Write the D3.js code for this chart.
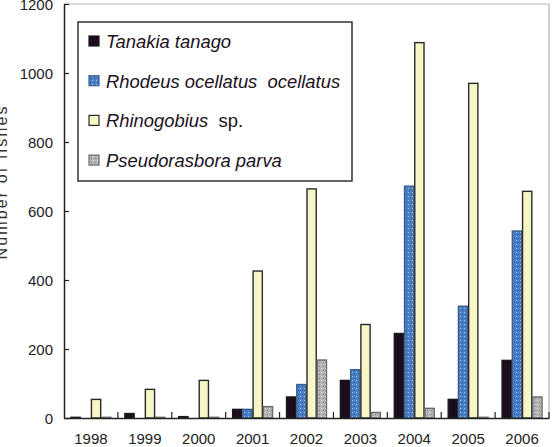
<!DOCTYPE html>
<html>
<head>
<meta charset="utf-8">
<title>Number of fishes 1998-2006</title>
<style>
  body { margin: 0; background: #fff; }
  svg { display: block; }
  .tick-label { font-family: "Liberation Sans", Arial, sans-serif; font-size: 15px; fill: #222; }
  .legend-text { font-family: "Liberation Sans", Arial, sans-serif; font-size: 18.4px; fill: #1c1222; }
</style>
</head>
<body>
<script src="https://d3js.org/d3.v7.min.js"></script>
<script>
// data
var years = ["1998", "1999", "2000", "2001", "2002", "2003", "2004", "2005", "2006"];
var speciesNames = ["Tanakia tanago", "Rhodeus ocellatus  ocellatus", "Rhinogobius", "Pseudorasbora parva"];
var tanakia      = [2, 13, 4, 25, 61, 109, 245, 54, 167];
var rhodeus      = [0, 0, 0, 25, 97, 140, 672, 324, 542];
var rhinogobius  = [54, 83, 109, 426, 664, 271, 1088, 970, 657];
var pseudorasbora = [2, 2, 2, 33, 168, 16, 28, 2, 61];
var yTicks = [0, 200, 400, 600, 800, 1000, 1200];

var series = [tanakia, rhodeus, rhinogobius, pseudorasbora];

var width = 553, height = 447;
var plotLeft = 64, plotRight = 549, plotTop = 4, plotBottom = 418;

var svg = d3.select("body").append("svg")
    .attr("width", width)
    .attr("height", height);

// fill patterns for the textured bars
var defs = svg.append("defs");
var pb = defs.append("pattern").attr("id", "blueDots")
    .attr("width", 4).attr("height", 4).attr("patternUnits", "userSpaceOnUse");
pb.append("rect").attr("width", 4).attr("height", 4).attr("fill", "#4a7fc4");
pb.append("rect").attr("x", 0).attr("y", 0).attr("width", 1).attr("height", 1).attr("fill", "#9cc0ea");
pb.append("rect").attr("x", 2).attr("y", 2).attr("width", 1).attr("height", 1).attr("fill", "#2f5f9f");

var pg = defs.append("pattern").attr("id", "grayMottle")
    .attr("width", 4).attr("height", 4).attr("patternUnits", "userSpaceOnUse");
pg.append("rect").attr("width", 4).attr("height", 4).attr("fill", "#b4b4b4");
pg.append("rect").attr("x", 1).attr("y", 0).attr("width", 1).attr("height", 1).attr("fill", "#e4e4e4");
pg.append("rect").attr("x", 3).attr("y", 2).attr("width", 1).attr("height", 1).attr("fill", "#8a8a8a");

var fills = ["#1c0c1e", "url(#blueDots)", "#f6f6c6", "url(#grayMottle)"];
var strokes = ["#1a1a1a", "#3d5f8e", "#2a2a2a", "#6a6a6a"];

var x0 = d3.scaleBand().domain(years).range([plotLeft, plotRight])
    .paddingInner(0.24).paddingOuter(0.12);
var x1 = d3.scaleBand().domain(d3.range(series.length)).range([0, x0.bandwidth()]);
var y = d3.scaleLinear().domain([0, 1200]).range([plotBottom, plotTop]);

// light frame on top and right
svg.append("path")
    .attr("d", "M" + plotLeft + "," + plotTop + "H" + plotRight + "V" + plotBottom)
    .attr("fill", "none").attr("stroke", "#b5b5b5").attr("stroke-width", 1.2);

// bars
series.forEach(function(vals, s) {
    svg.append("g").selectAll("rect")
        .data(vals)
        .enter().append("rect")
        .attr("x", function(d, i) { return x0(years[i]) + x1(s) + 0.5; })
        .attr("y", function(d) { return y(d); })
        .attr("width", x1.bandwidth() - 1)
        .attr("height", function(d) { return plotBottom - y(d); })
        .attr("fill", fills[s])
        .attr("stroke", strokes[s])
        .attr("stroke-width", 1.4);
});

// y axis
var yAxis = d3.axisLeft(y).tickValues(yTicks).tickFormat(d3.format("d"))
    .tickSizeInner(-5).tickSizeOuter(0).tickPadding(11);
var gy = svg.append("g").attr("transform", "translate(" + plotLeft + ",0)").call(yAxis);
gy.attr("font-size", null).attr("font-family", null);
gy.select(".domain").attr("stroke", "#222").attr("stroke-width", 1.5);
gy.selectAll(".tick line").attr("stroke", "#222").attr("stroke-width", 1.2);
gy.selectAll(".tick text").attr("class", "tick-label").attr("dy", "0.36em");

// x axis with ticks between the groups
var xAxis = d3.axisBottom(x0).tickSize(0).tickPadding(15);
var gx = svg.append("g").attr("transform", "translate(0," + plotBottom + ")").call(xAxis);
gx.attr("font-size", null).attr("font-family", null);
gx.select(".domain").attr("stroke", "#222").attr("stroke-width", 1.5);
gx.selectAll(".tick text").attr("class", "tick-label");
var step = x0.step();
svg.append("g").selectAll("line")
    .data(years.slice(1).concat(["end"]))
    .enter().append("line")
    .attr("x1", function(d, i) { return plotLeft + step * (i + 1); })
    .attr("x2", function(d, i) { return plotLeft + step * (i + 1); })
    .attr("y1", plotBottom).attr("y2", plotBottom - 6)
    .attr("stroke", "#222").attr("stroke-width", 1.2);

// y title
svg.append("text")
    .attr("transform", "translate(7,183) rotate(-90)")
    .attr("text-anchor", "middle")
    .attr("textLength", 153)
    .style("font-family", "Liberation Sans, Arial, sans-serif")
    .style("font-size", "16px")
    .style("fill", "#333")
    .text("Number of fishes");

// legend
var lg = svg.append("g");
lg.append("rect").attr("x", 78).attr("y", 22).attr("width", 274).attr("height", 159)
    .attr("fill", "#fff").attr("stroke", "#333").attr("stroke-width", 1.5);
speciesNames.forEach(function(name, s) {
    var by = 48 + s * 39.7;
    lg.append("rect").attr("x", 89).attr("y", by - 12).attr("width", 10).attr("height", 10)
        .attr("fill", fills[s]).attr("stroke", strokes[s]).attr("stroke-width", 1.2);
    var t = lg.append("text").attr("class", "legend-text").attr("x", 106).attr("y", by)
        .attr("xml:space", "preserve");
    t.append("tspan").style("font-style", "italic").text(name);
    if (name === "Rhinogobius") t.append("tspan").text("  sp.");
});
</script>
</body>
</html>
